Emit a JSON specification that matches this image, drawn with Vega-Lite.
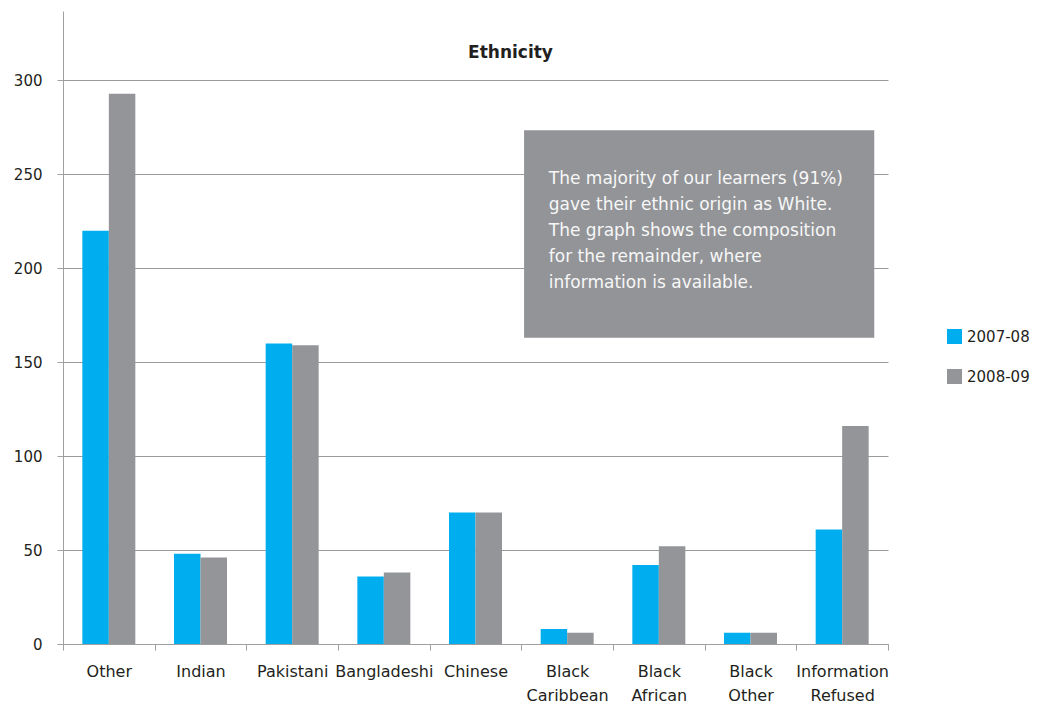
{
  "$schema": "https://vega.github.io/schema/vega-lite/v6.json",
  "autosize": "none",
  "width": 825,
  "height": 633,
  "padding": {"left": 63, "top": 11, "right": 160, "bottom": 62},
  "background": "white",
  "config": {
    "font": "DejaVu Sans",
    "view": {"stroke": null},
    "axis": {"labelFont": "DejaVu Sans", "labelColor": "#231f20", "labelFontSize": 15}
  },
  "title": {
    "text": "Ethnicity",
    "font": "DejaVu Sans",
    "fontSize": 17,
    "fontWeight": "bold",
    "color": "#231f20",
    "anchor": "middle",
    "dx": 35,
    "offset": -59,
    "baseline": "middle"
  },
  "datasets": {
    "bars": [
      {"Category": "Other", "Year": "2007-08", "Value": 220},
      {"Category": "Other", "Year": "2008-09", "Value": 293},
      {"Category": "Indian", "Year": "2007-08", "Value": 48},
      {"Category": "Indian", "Year": "2008-09", "Value": 46},
      {"Category": "Pakistani", "Year": "2007-08", "Value": 160},
      {"Category": "Pakistani", "Year": "2008-09", "Value": 159},
      {"Category": "Bangladeshi", "Year": "2007-08", "Value": 36},
      {"Category": "Bangladeshi", "Year": "2008-09", "Value": 38},
      {"Category": "Chinese", "Year": "2007-08", "Value": 70},
      {"Category": "Chinese", "Year": "2008-09", "Value": 70},
      {"Category": "Black Caribbean", "Year": "2007-08", "Value": 8},
      {"Category": "Black Caribbean", "Year": "2008-09", "Value": 6},
      {"Category": "Black African", "Year": "2007-08", "Value": 42},
      {"Category": "Black African", "Year": "2008-09", "Value": 52},
      {"Category": "Black Other", "Year": "2007-08", "Value": 6},
      {"Category": "Black Other", "Year": "2008-09", "Value": 6},
      {"Category": "Information Refused", "Year": "2007-08", "Value": 61},
      {"Category": "Information Refused", "Year": "2008-09", "Value": 116}
    ],
    "note": [
      {"x0": 5.03, "x1": 8.85, "y0": 163, "y1": 273.5, "tx": 5.3, "ty": 251.8,
       "text": ["The majority of our learners (91%)", "gave their ethnic origin as White.", "The graph shows the composition", "for the remainder, where", "information is available."]}
    ]
  },
  "layer": [
    {
      "data": {"name": "bars"},
      "mark": {"type": "bar"},
      "encoding": {
        "x": {
          "field": "Category",
          "type": "nominal",
          "sort": null,
          "scale": {"paddingInner": 0, "paddingOuter": 0},
          "axis": {
            "title": null,
            "labelAngle": 0,
            "labelFontSize": 16,
            "domainColor": "#a0a0a0",
            "tickColor": "#a0a0a0",
            "tickSize": 6,
            "tickBand": "extent",
            "labelPadding": 13,
            "labelLineHeight": 24,
            "labelBaseline": "top",
            "labelExpr": "split(datum.label, ' ')"
          }
        },
        "xOffset": {"field": "Year", "type": "nominal", "scale": {"paddingOuter": 0.73, "paddingInner": 0}},
        "y": {
          "field": "Value",
          "type": "quantitative",
          "scale": {"domain": [0, 337], "nice": false},
          "axis": {
            "title": null,
            "values": [0, 50, 100, 150, 200, 250, 300],
            "grid": true,
            "gridColor": "#9a9a9a",
            "gridWidth": 1,
            "domainColor": "#a0a0a0",
            "tickColor": "#a0a0a0",
            "tickSize": 6,
            "labelPadding": 15
          }
        },
        "color": {
          "field": "Year",
          "type": "nominal",
          "scale": {"domain": ["2007-08", "2008-09"], "range": ["#00aeef", "#939598"]},
          "legend": {
            "title": null,
            "orient": "none",
            "legendX": 884,
            "legendY": 318,
            "symbolType": "square",
            "symbolSize": 225,
            "symbolStrokeWidth": 0,
            "labelFontSize": 15,
            "labelColor": "#231f20",
            "labelFont": "DejaVu Sans",
            "labelOffset": 5,
            "rowPadding": 24
          }
        }
      }
    },
    {
      "data": {"name": "note"},
      "mark": {"type": "rect", "color": "#929497"},
      "encoding": {
        "x": {"field": "x0", "type": "quantitative", "scale": {"domain": [0, 9], "nice": false}, "axis": null},
        "x2": {"field": "x1"},
        "y": {"field": "y0", "type": "quantitative"},
        "y2": {"field": "y1"}
      }
    },
    {
      "data": {"name": "note"},
      "mark": {"type": "text", "align": "left", "baseline": "top", "fontSize": 17, "lineHeight": 26, "color": "#f7f7f7", "font": "DejaVu Sans"},
      "encoding": {
        "x": {"field": "tx", "type": "quantitative", "scale": {"domain": [0, 9], "nice": false}, "axis": null},
        "y": {"field": "ty", "type": "quantitative"},
        "text": {"field": "text"}
      }
    }
  ],
  "resolve": {"scale": {"x": "independent"}, "axis": {"x": "independent"}}
}
